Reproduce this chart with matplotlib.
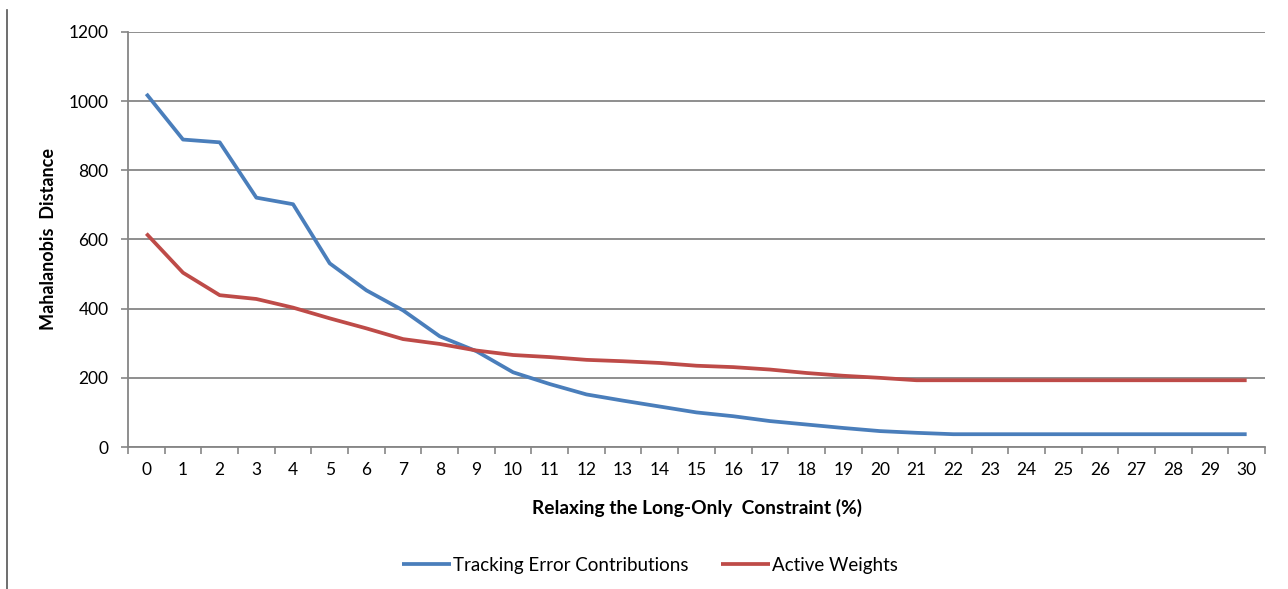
import numpy as np
import matplotlib
matplotlib.use("Agg")
import matplotlib.pyplot as plt
from matplotlib.lines import Line2D

plt.rcParams['font.family'] = ['Lato', 'DejaVu Sans']

# relaxation of the long-only constraint, in percent
relax_pct = list(range(0, 31))

tracking_error = [1021, 889, 881, 721, 702, 531, 453, 395, 320, 277,
                  216, 182, 152, 134, 117, 100, 89, 75, 65, 55,
                  46, 41, 37, 37, 37, 37, 37, 37, 37, 37, 37]
active_weights = [617, 504, 439, 428, 403, 372, 343, 312, 298, 279,
                  266, 260, 252, 248, 243, 235, 231, 224, 214, 206,
                  200, 193, 193, 193, 193, 193, 193, 193, 193, 193, 193]

y_ticks = [0, 200, 400, 600, 800, 1000, 1200]

blue = '#4A7EBB'
red = '#BE4B48'
grid_col = '#868686'


def main():
    fig = plt.figure(figsize=(12.88, 5.89), dpi=100)
    ax = fig.add_axes([128 / 1288, 1 - 447 / 589, (1265 - 128) / 1288, (447 - 32) / 589])

    x = np.array(relax_pct)
    ax.plot(x, tracking_error, color=blue, lw=2.7, label='Tracking Error Contributions',
            solid_capstyle='butt', solid_joinstyle='round')
    ax.plot(x, active_weights, color=red, lw=2.7, label='Active Weights',
            solid_capstyle='butt', solid_joinstyle='round')

    ax.set_xlim(-0.5, len(relax_pct) - 0.5)
    ax.set_ylim(0, 1200)

    # labels at category centres, tick marks on category boundaries
    ax.set_xticks(x)
    ax.set_xticklabels([str(v) for v in relax_pct], fontsize=12.5)
    ax.tick_params(axis='x', which='major', length=0, pad=11)
    ax.set_xticks(np.arange(-0.5, len(relax_pct)), minor=True)
    ax.tick_params(axis='x', which='minor', length=5, width=1.2, color=grid_col, direction='out')

    ax.set_yticks(y_ticks)
    ax.set_yticklabels([str(v) for v in y_ticks], fontsize=12.5)
    ax.tick_params(axis='y', length=5, width=1.2, color=grid_col, pad=9)

    ax.grid(axis='y', color=grid_col, lw=1.3)
    ax.set_axisbelow(True)
    for side in ['top', 'right']:
        ax.spines[side].set_visible(False)
    for side in ['left', 'bottom']:
        ax.spines[side].set_color(grid_col)
        ax.spines[side].set_linewidth(1.3)

    ax.set_ylabel('Mahalanobis  Distance', fontsize=13, fontweight='bold', labelpad=8)
    ax.set_xlabel('Relaxing the Long-Only  Constraint (%)', fontsize=13.8,
                  fontweight='bold', labelpad=15)

    fig.legend(loc='center', bbox_to_anchor=(650 / 1288, 1 - 565 / 589), ncol=2,
               frameon=False, fontsize=13.5, handlelength=2.6, handletextpad=0.15,
               columnspacing=1.7)

    # left edge of the chart frame
    fig.add_artist(Line2D([7 / 1288, 7 / 1288], [0, 1 - 10 / 589],
                          transform=fig.transFigure, color='#555555', lw=1.2))

    fig.savefig('out.png', dpi=100)


if __name__ == "__main__":
    main()
